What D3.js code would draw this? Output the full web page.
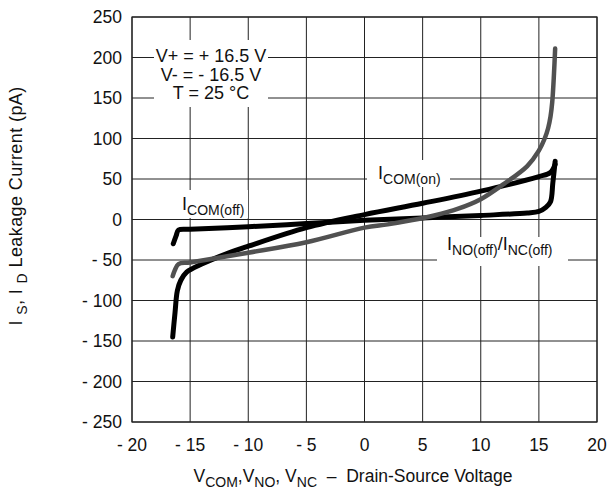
<!DOCTYPE html>
<html>
<head>
<meta charset="utf-8">
<script src="https://cdn.jsdelivr.net/npm/d3@7"></script>
<style>
  body { margin: 0; background: #fff; }
  text { font-family: "Liberation Sans", Arial, sans-serif; fill: #111; }
</style>
</head>
<body>
<div id="container"></div>
<script>
// leakage current vs drain-source voltage
const xTicks = [-20, -15, -10, -5, 0, 5, 10, 15, 20];
const yTicks = [-250, -200, -150, -100, -50, 0, 50, 100, 150, 200, 250];

// I_NO(off) / I_NC(off), black
const noOff = [[-16.45,-30],[-16.2,-20],[-16,-13],[-15,-12],[-10,-9],[-5,-5],[0,-1],[5,2],[10,5],[14,8],[15,10],[15.6,15],[16,22],[16.2,45],[16.4,72]];
// I_COM(on), black
const comOn = [[-16.5,-145],[-16.3,-115],[-16.1,-88],[-15.8,-75],[-15.3,-65],[-14,-55],[-12,-43],[-10,-33],[-5,-10],[0,6],[5,20],[10,35],[15,53],[16,58],[16.4,68]];
// I_COM(off), gray
const comOff = [[-16.5,-70],[-16.3,-62],[-16,-55],[-15,-53],[-10,-41],[-5,-28],[0,-10],[2,-6],[4,-1],[6,5],[8,13],[10,25],[12,44],[14,66],[15,85],[15.5,100],[15.8,113],[16,127],[16.15,145],[16.3,180],[16.4,211]];

const w = 610, h = 499;
const pLeft = 132, pRight = 597, pTop = 17, pBottom = 422;

const x = d3.scaleLinear().domain([-20, 20]).range([pLeft, pRight]);
const y = d3.scaleLinear().domain([-250, 250]).range([pBottom, pTop]);
const fmt = (d) => d < 0 ? "- " + Math.abs(d) : String(d);

const svg = d3.select("#container").append("svg")
    .attr("width", w).attr("height", h);

// grid
svg.append("g").selectAll("line").data(xTicks).enter().append("line")
    .attr("x1", (d) => x(d)).attr("x2", (d) => x(d))
    .attr("y1", pTop).attr("y2", pBottom)
    .attr("stroke", "#222").attr("stroke-width", 1);
svg.append("g").selectAll("line").data(yTicks).enter().append("line")
    .attr("x1", pLeft).attr("x2", pRight)
    .attr("y1", (d) => y(d)).attr("y2", (d) => y(d))
    .attr("stroke", "#222").attr("stroke-width", 1);
svg.append("rect")
    .attr("x", pLeft).attr("y", pTop)
    .attr("width", pRight - pLeft).attr("height", pBottom - pTop)
    .attr("fill", "none").attr("stroke", "#222").attr("stroke-width", 1.2);

// tick labels
svg.append("g").selectAll("text").data(yTicks).enter().append("text")
    .attr("x", pLeft - 10).attr("y", (d) => y(d) + 6)
    .attr("text-anchor", "end").attr("font-size", 17.5)
    .text(fmt);
svg.append("g").selectAll("text").data(xTicks).enter().append("text")
    .attr("x", (d) => x(d)).attr("y", 451)
    .attr("text-anchor", "middle").attr("font-size", 17.5)
    .text(fmt);

// white boxes behind annotations
const boxes = [[154, 40, 114, 67], [178, 190, 70, 28], [367, 160, 83, 27], [437, 237, 131, 29]];
svg.append("g").selectAll("rect").data(boxes).enter().append("rect")
    .attr("x", (d) => d[0]).attr("y", (d) => d[1])
    .attr("width", (d) => d[2]).attr("height", (d) => d[3])
    .attr("fill", "#fff");

// curves
const line = d3.line()
    .x((d) => x(d[0])).y((d) => y(d[1]))
    .curve(d3.curveCatmullRom.alpha(0.5));

svg.append("path").datum(noOff).attr("d", line)
    .attr("fill", "none").attr("stroke", "#000").attr("stroke-width", 5)
    .attr("stroke-linejoin", "round").attr("stroke-linecap", "round");
svg.append("path").datum(comOn).attr("d", line)
    .attr("fill", "none").attr("stroke", "#000").attr("stroke-width", 5)
    .attr("stroke-linejoin", "round").attr("stroke-linecap", "round");
svg.append("path").datum(comOff).attr("d", line)
    .attr("fill", "none").attr("stroke", "#515151").attr("stroke-width", 4.5)
    .attr("stroke-linejoin", "round").attr("stroke-linecap", "round");

// conditions
const cond = ["V+ = + 16.5 V", "V- = - 16.5 V", "T = 25 °C"];
svg.append("g").selectAll("text").data(cond).enter().append("text")
    .attr("x", 211).attr("y", (d, i) => 62 + i * 18.5)
    .attr("text-anchor", "middle").attr("font-size", 18)
    .text((d) => d);

// text with subscripts: parts are [string, isSub]
function richText(sel, parts, big, small) {
    let shifted = false;
    parts.forEach(([s, sub]) => {
        const ts = sel.append("tspan").text(s).attr("font-size", sub ? small : big);
        if (sub && !shifted) { ts.attr("dy", 5); shifted = true; }
        if (!sub && shifted) { ts.attr("dy", -5); shifted = false; }
    });
    return sel;
}
richText(svg.append("text").attr("x", 182).attr("y", 210),
    [["I"], ["COM(off)", true]], 18, 14);
richText(svg.append("text").attr("x", 378).attr("y", 179),
    [["I"], ["COM(on)", true]], 18, 14);
richText(svg.append("text").attr("x", 447).attr("y", 250),
    [["I"], ["NO(off)", true], ["/I"], ["NC(off)", true]], 18, 14);

// axis titles
richText(svg.append("text").attr("x", 353).attr("y", 482).attr("text-anchor", "middle"),
    [["V"], ["COM", true], [",V"], ["NO", true], [", V"], ["NC", true],
     ["\u00a0\u00a0\u2013\u00a0\u00a0Drain-Source Voltage"]], 17.5, 14);

richText(svg.append("text")
    .attr("transform", "translate(22,206) rotate(-90)")
    .attr("text-anchor", "middle").attr("letter-spacing", 0.4),
    [["I\u00a0"], ["S", true], [", I\u00a0"], ["D", true], [" Leakage Current (pA)"]], 18, 14);
</script>
</body>
</html>
